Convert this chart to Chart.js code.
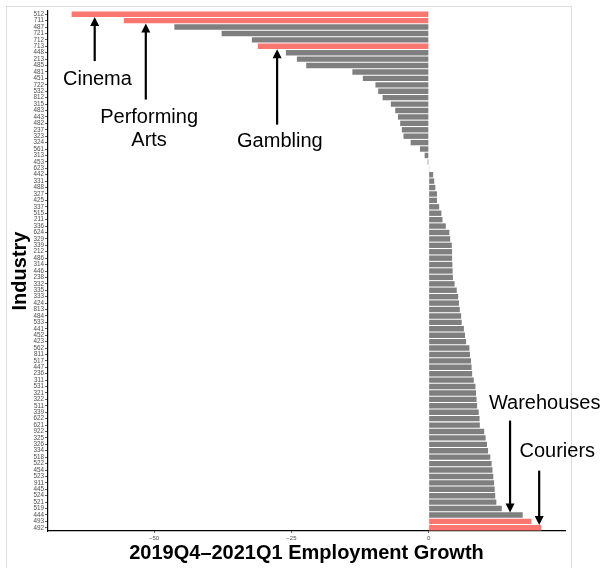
<!DOCTYPE html>
<html>
<head>
<meta charset="utf-8">
<script src="https://cdn.jsdelivr.net/npm/chart.js@4"></script>
<style>
  html, body { margin: 0; padding: 0; background: #fff; }
  #wrap { position: relative; width: 604px; height: 568px; }
  #frame { position: absolute; left: 6px; top: 6px; width: 566px; height: 570px;
           border: 1px solid #dcdcdc; border-bottom: none; box-sizing: border-box; }
  canvas { position: absolute; left: 0; top: 0; }
</style>
</head>
<body>
<div id="wrap">
  <div id="frame"></div>
  <canvas id="growth-chart" width="604" height="568"></canvas>
</div>
<script>
// 3-digit NAICS industries, sorted by employment change
const industries = ['512','711','487','721','712','713','448','213','485','481','451','722','532','812','315','483','443','482','237','323','324','561','313','453','623','442','331','488','327','425','337','515','211','336','624','329','339','212','486','314','446','238','332','335','333','424','813','484','533','441','452','423','562','811','517','447','236','311','531','321','322','511','339','622','621','922','325','326','334','518','522','454','523','911','445','524','521','519','444','493','492'];

const growth = [-65.0,-55.5,-46.3,-37.7,-32.2,-31.1,-26.0,-24.0,-22.3,-13.9,-12.0,-9.7,-9.2,-8.4,-6.9,-6.1,-5.6,-5.2,-4.9,-4.6,-3.3,-1.6,-0.75,-0.2,0.1,0.8,1.0,1.2,1.5,1.5,1.9,2.3,2.5,3.1,3.75,3.9,4.2,4.25,4.25,4.3,4.35,4.4,4.7,5.1,5.35,5.5,5.65,5.9,6.0,6.4,6.6,6.8,7.4,7.5,7.7,7.8,7.9,8.2,8.5,8.6,8.7,8.8,9.1,9.25,9.3,10.1,10.35,10.6,10.8,11.2,11.45,11.6,11.75,11.9,12.0,12.1,12.3,13.3,17.1,18.7,20.5];

const highlighted = ['512','711','713','493','492'];
const xTicks = [-50, -25, 0];

// callouts: x in growth units, y in category positions
const notes = [
  { lines: ['Cinema'], textX: -60.3, textY: 10.2, arrowX: -60.8, arrowFrom: 7.3, arrowTo: 0.45 },
  { lines: ['Performing', 'Arts'], textX: -50.9, textY: 16.1, arrowX: -51.5, arrowFrom: 13.3, arrowTo: 1.45 },
  { lines: ['Gambling'], textX: -27.1, textY: 19.8, arrowX: -27.6, arrowFrom: 17.2, arrowTo: 5.45 },
  { lines: ['Warehouses'], textX: 21.1, textY: 60.6, arrowX: 14.8, arrowFrom: 63.3, arrowTo: 77.6 },
  { lines: ['Couriers'], textX: 23.4, textY: 68.1, arrowX: 20.1, arrowFrom: 71.1, arrowTo: 79.55 }
];

const FONT = '"Liberation Sans", Arial, Helvetica, sans-serif';

const calloutPlugin = {
  id: 'callouts',
  afterDraw(chart) {
    const ctx = chart.ctx;
    const xs = chart.scales.x;
    const ys = chart.scales.y;
    ctx.save();
    ctx.fillStyle = '#000';
    ctx.strokeStyle = '#000';
    ctx.font = '20px ' + FONT;
    ctx.textAlign = 'center';
    ctx.textBaseline = 'middle';
    notes.forEach(n => {
      const tx = xs.getPixelForValue(n.textX);
      const ty = ys.getPixelForValue(n.textY);
      n.lines.forEach((line, i) => ctx.fillText(line, tx, ty + i * 23));
      const ax = xs.getPixelForValue(n.arrowX);
      const y0 = ys.getPixelForValue(n.arrowFrom);
      const y1 = ys.getPixelForValue(n.arrowTo);
      const dir = y1 > y0 ? 1 : -1;
      ctx.lineWidth = 2.2;
      ctx.beginPath();
      ctx.moveTo(ax, y0);
      ctx.lineTo(ax, y1 - dir * 7);
      ctx.stroke();
      ctx.beginPath();
      ctx.moveTo(ax, y1);
      ctx.lineTo(ax - 4.5, y1 - dir * 9);
      ctx.lineTo(ax + 4.5, y1 - dir * 9);
      ctx.closePath();
      ctx.fill();
    });

    // axis titles
    ctx.font = 'bold 20px ' + FONT;
    const area = chart.chartArea;
    ctx.fillText('2019Q4\u20132021Q1 Employment Growth', (area.left + area.right) / 2, 553);
    ctx.translate(20, (area.top + area.bottom) / 2);
    ctx.rotate(-Math.PI / 2);
    ctx.fillText('Industry', 0, 0);
    ctx.restore();
  }
};

const ctx = document.getElementById('growth-chart').getContext('2d');
new Chart(ctx, {
  type: 'bar',
  data: {
    labels: industries,
    datasets: [{
      data: growth,
      backgroundColor: industries.map(c => highlighted.includes(c) ? '#fa7670' : '#7f7f7f'),
      borderWidth: 0,
      barPercentage: 0.84,
      categoryPercentage: 1.0
    }]
  },
  options: {
    indexAxis: 'y',
    responsive: false,
    animation: false,
    devicePixelRatio: 1,
    layout: { padding: { left: 0, right: 39, top: 11, bottom: 0 } },
    plugins: {
      legend: { display: false },
      tooltip: { enabled: false }
    },
    scales: {
      x: {
        type: 'linear',
        min: -69.3,
        max: 24.8,
        afterBuildTicks: scale => { scale.ticks = xTicks.map(v => ({ value: v })); },
        afterFit: scale => { scale.height = 37; },
        grid: { drawOnChartArea: false, drawTicks: true, tickLength: 2, color: '#333', lineWidth: 0.8 },
        border: { display: true, color: '#000', width: 1.2 },
        ticks: {
          color: '#4d4d4d',
          padding: 2,
          font: { family: FONT, size: 6 },
          callback: v => (v < 0 ? '\u2212' + Math.abs(v) : String(v))
        }
      },
      y: {
        type: 'category',
        offset: true,
        afterFit: scale => { scale.width = 48; },
        grid: { drawOnChartArea: false, drawTicks: true, tickLength: 3, color: '#333', lineWidth: 0.8, offset: false },
        border: { display: true, color: '#000', width: 1.2 },
        ticks: {
          autoSkip: false,
          color: '#4d4d4d',
          padding: 1,
          font: { family: FONT, size: 6.3 }
        }
      }
    }
  },
  plugins: [calloutPlugin]
});
</script>
</body>
</html>
